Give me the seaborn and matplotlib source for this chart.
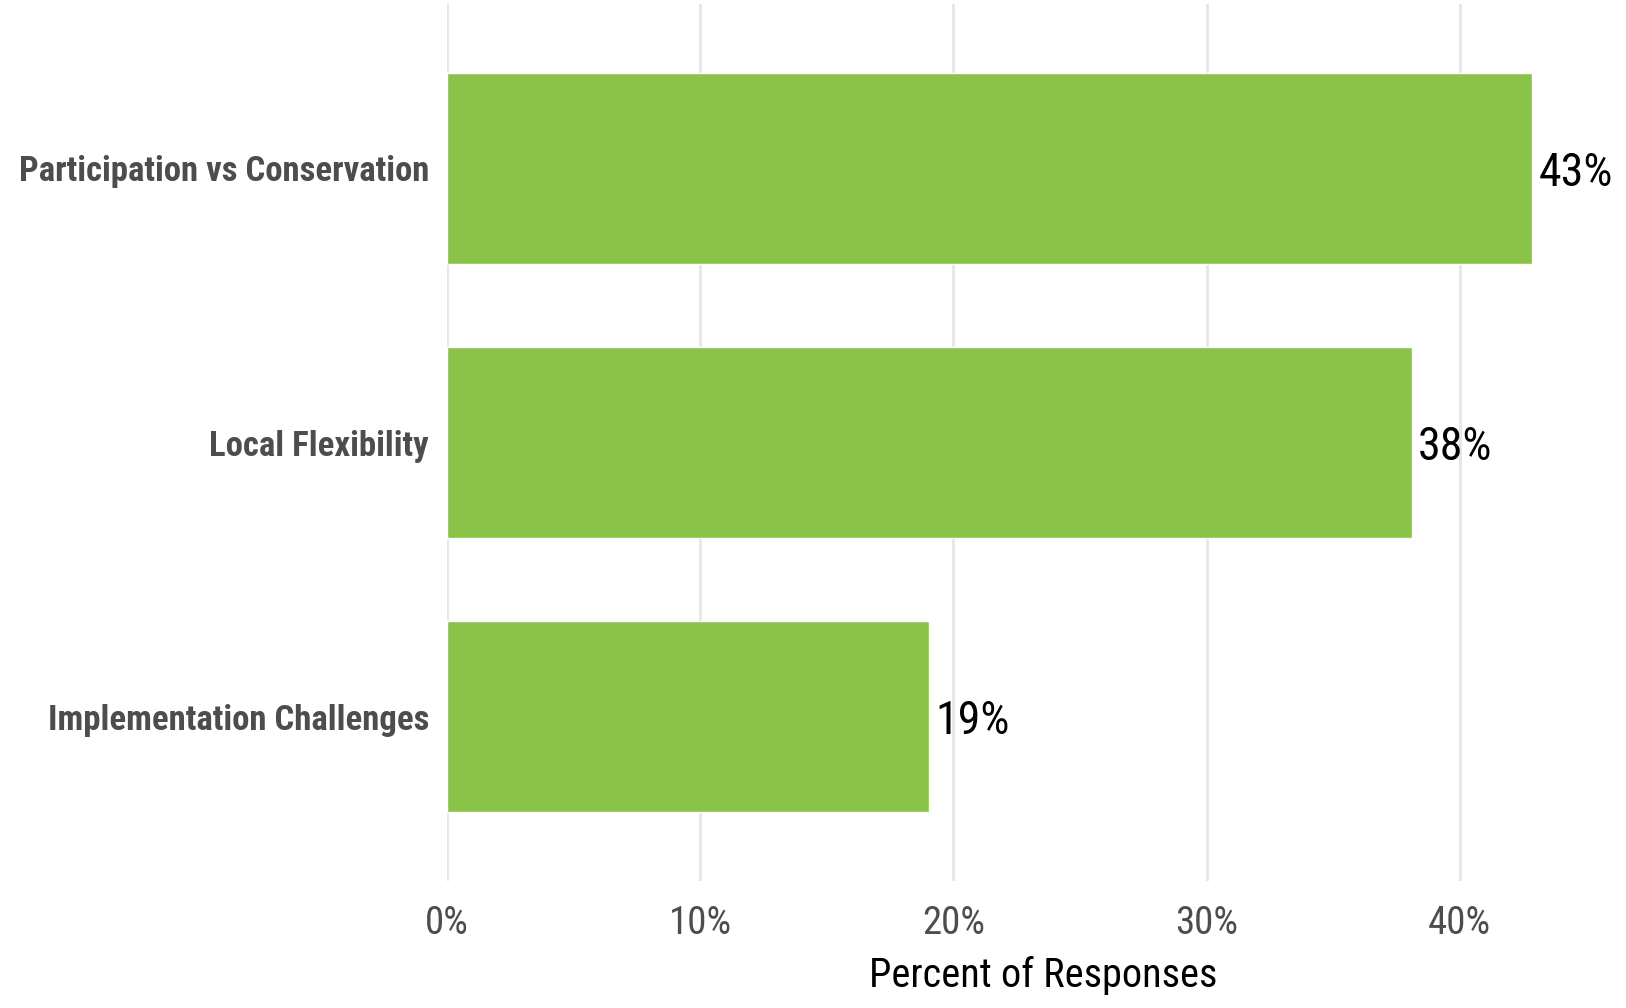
import matplotlib
matplotlib.use("Agg")
import matplotlib.pyplot as plt
import seaborn as sns
import pandas as pd
from matplotlib.ticker import PercentFormatter, MultipleLocator

categories = ["Participation vs Conservation", "Local Flexibility", "Implementation Challenges"]
values = [42.86, 38.10, 19.05]
labels = ["43%", "38%", "19%"]
xlabel = "Percent of Responses"

sns.set_theme(style="white")
plt.rcParams['font.family'] = ['Roboto Condensed', 'Liberation Sans', 'DejaVu Sans']

df = pd.DataFrame({"category": categories, "value": [v / 100 for v in values]})

fig = plt.figure(figsize=(16.26, 10.08), dpi=100)
ax = fig.add_axes([0.275, 0.126, 0.724, 0.870])
sns.barplot(data=df, y="category", x="value", color="#8BC34A", width=0.7,
            saturation=1, ax=ax, orient="h")

ax.set_xlim(0, 0.465)
ax.set_ylim(2.6, -0.6)
ax.xaxis.set_major_locator(MultipleLocator(0.1))
ax.xaxis.set_major_formatter(PercentFormatter(1.0, decimals=0))
ax.grid(axis="x", color="#E6E6E6", linewidth=2)
ax.grid(axis="y", visible=False)
ax.set_axisbelow(True)
for s in ax.spines.values():
    s.set_visible(False)
ax.tick_params(axis="both", length=0)
ax.tick_params(axis="y", pad=13, labelsize=25, labelcolor="#4D4D4D")
ax.tick_params(axis="x", pad=17, labelsize=28, labelcolor="#4D4D4D")
for t in ax.get_yticklabels():
    t.set_fontweight("bold")
    t.set_verticalalignment("center_baseline")
ax.set_ylabel("")
ax.set_xlabel(xlabel, fontsize=29, color="black", labelpad=10)
ax.xaxis.label.set_x(0.506)

for i, (v, lab) in enumerate(zip(values, labels)):
    ax.text(v / 100 + 0.0025, i, lab, va="center_baseline", ha="left", fontsize=33,
            color="black", clip_on=False)

fig.savefig("out.png", dpi=100)
